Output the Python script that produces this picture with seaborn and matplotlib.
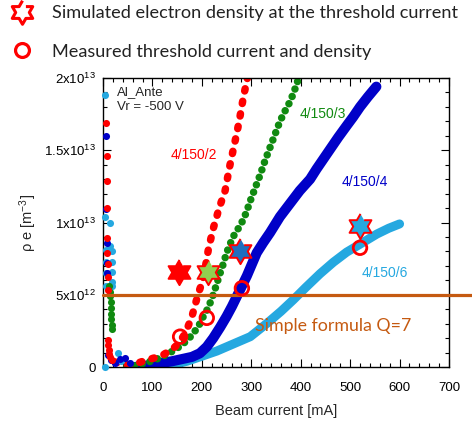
import numpy as np
import pandas as pd
import matplotlib
matplotlib.use("Agg")
import matplotlib.pyplot as plt
import seaborn as sns
from matplotlib.lines import Line2D
from matplotlib.ticker import MultipleLocator, FixedLocator, FixedFormatter

# ---------------- data (x: beam current [mA], y: density in 1e12 m^-3) ----------------
red_x = [24, 33, 41, 51, 61, 71, 81, 91, 101, 111, 122, 132, 141, 149, 156, 162, 168, 172, 176, 180,
         184, 188, 193, 200, 206, 213, 219, 224, 230, 235, 241, 247, 252, 257, 262, 267, 272, 277, 281, 286, 291, 294]
red_y = [0.35, 0.25, 0.2, 0.15, 0.2, 0.28, 0.4, 0.5, 0.6, 0.7, 0.85, 1.06, 1.25, 1.5, 1.8, 2.1, 2.45, 2.8, 3.15, 3.5,
         4.0, 4.5, 5.1, 5.8, 6.7, 8.1, 9.0, 9.7, 10.4, 11.0, 11.6, 12.2, 13.1, 14.0, 14.8, 15.6, 16.4, 17.3, 18.1, 19.0, 19.8, 20.3]
red_early_x = [7, 8, 8, 8, 9, 9, 10, 10, 11, 11, 11, 12, 13, 14, 18]
red_early_y = [16.9, 14.6, 12.9, 11.0, 8.9, 7.9, 7.1, 6.2, 5.3, 1.9, 1.5, 1.2, 0.9, 0.7, 0.5]

green_x = [48, 60, 72, 85, 102, 119, 133, 146, 160, 172, 183, 193, 203, 213, 223, 230, 237, 244, 250, 257,
           264, 274, 284, 291, 298, 308, 318, 328, 338, 348, 358, 368, 379, 387, 395, 398]
green_y = [0.0, 0.05, 0.15, 0.28, 0.45, 0.7, 0.95, 1.2, 1.55, 1.9, 2.35, 2.8, 3.5, 4.1, 5.0, 5.75, 6.5, 7.2, 7.9, 8.5,
           9.05, 9.6, 10.2, 10.8, 11.5, 12.4, 13.3, 14.3, 15.2, 16.1, 17.0, 17.7, 18.4, 19.1, 19.9, 20.2]
green_early_x = [13, 14, 15, 16, 16, 17, 17, 18, 18]
green_early_y = [5.6, 5.2, 4.9, 4.5, 4.1, 3.7, 3.3, 2.9, 2.6]

blue_x = [65, 90, 119, 140, 160, 180, 196, 210, 223, 237, 250, 261, 271, 281, 291, 301, 311, 324, 338, 358,
          378, 398, 419, 432, 446, 460, 476, 493, 506, 520, 536, 553]
blue_y = [0.0, 0.1, 0.28, 0.4, 0.55, 0.7, 0.95, 1.4, 2.0, 2.75, 3.5, 4.2, 4.9, 5.6, 6.3, 7.1, 7.9, 8.6, 9.3, 10.4,
          11.3, 12.2, 13.0, 13.7, 14.4, 15.1, 15.9, 16.7, 17.3, 18.0, 18.7, 19.4]
blue_early_x = [7, 7, 8, 8, 9, 11, 17, 24, 35, 45, 55]
blue_early_y = [16.0, 10.9, 8.6, 7.2, 6.5, 0.8, 0.5, 0.3, 0.55, 0.6, 0.3]

cyan_x = [75, 110, 140, 170, 196, 230, 264, 298, 331, 360, 385, 410, 439, 466, 493, 520, 554, 578, 600]
cyan_y = [0.0, 0.05, 0.15, 0.4, 0.7, 1.1, 1.6, 2.1, 3.0, 3.85, 4.65, 5.5, 6.45, 7.25, 7.95, 8.5, 9.2, 9.6, 9.9]
cyan_early_x = [4, 4, 14, 14, 7, 7, 7, 7, 18, 18, 18, 18, 18, 4, 30, 36]
cyan_early_y = [18.8, 10.4, 10.0, 8.35, 8.1, 7.3, 6.5, 5.6, 8.0, 7.3, 6.6, 5.9, 5.6, 0.0, 0.97, 0.4]

star_x = [153, 213, 277, 520]
star_y = [6.6, 6.6, 8.0, 9.75]
circle_x = [156, 210, 281, 520]
circle_y = [2.1, 3.4, 5.45, 8.25]

simple_formula_y = 5.0

series_labels = ["4/150/2", "4/150/3", "4/150/4", "4/150/6"]
x_ticks = [0, 100, 200, 300, 400, 500, 600, 700]
y_ticks = [0, 5, 10, 15, 20]
y_tick_labels = ["0", r"$\mathregular{5x10^{12}}$", r"$\mathregular{1x10^{13}}$",
                 r"$\mathregular{1.5x10^{13}}$", r"$\mathregular{2x10^{13}}$"]

# ---------------- style ----------------
sns.set_style("white")
plt.rcParams["font.family"] = ["Liberation Sans", "DejaVu Sans"]
plt.rcParams["mathtext.fontset"] = "custom"
plt.rcParams["mathtext.rm"] = "Liberation Sans"
plt.rcParams["mathtext.it"] = "Liberation Sans:italic"
plt.rcParams["mathtext.bf"] = "Liberation Sans:bold"

RED = "#ff0000"
GREEN = "#108a10"
BLUE = "#0000c8"
CYAN = "#25a8e0"
ORANGE = "#c55a11"

W, H = 472, 426
fig = plt.figure(figsize=(W / 100, H / 100), dpi=100)
ax = fig.add_axes([103 / W, (H - 367) / H, 346 / W, 289 / H])


def band(x, y, color, lw, ls="-"):
    sns.lineplot(x=x, y=y, ax=ax, color=color, lw=lw, sort=False, estimator=None)
    ln = ax.lines[-1]
    ln.set_linestyle(ls)
    ln.set_dash_capstyle("round")
    ln.set_solid_capstyle("round")
    ln.set_solid_joinstyle("round")


def dots(x, y, color):
    sns.scatterplot(x=x, y=y, ax=ax, color=color, s=26, linewidth=0, clip_on=False, zorder=3)


# cyan
band(cyan_x, cyan_y, CYAN, 6.5)
dots(cyan_early_x, cyan_early_y, CYAN)
# blue
band(blue_x, blue_y, BLUE, 7.3)
dots(blue_early_x, blue_early_y, BLUE)
# green
band(green_x, green_y, GREEN, 5.4, (0, (0.01, 1.05)))
dots(green_early_x, green_early_y, GREEN)
# red
band(red_x, red_y, RED, 5.4, (0, (0.3, 1.4)))
dots(red_early_x, red_early_y, RED)

# simple formula line
ax.axhline(simple_formula_y, xmin=0, xmax=(W - 103) / 346, color=ORANGE, lw=2.3,
           clip_on=False, zorder=4)

# stars (6-pointed)
ang = np.pi / 2 + np.arange(12) * np.pi / 6
rad = np.where(np.arange(12) % 2 == 0, 1.0, 0.577)
star_verts = np.column_stack([rad * np.cos(ang), rad * np.sin(ang)])
star_fill = [RED, "#92d050", "#1f6fc0", CYAN]
for sx, sy, fc in zip(star_x, star_y, star_fill):
    sns.scatterplot(x=[sx], y=[sy], ax=ax, marker=star_verts, s=330, color=fc,
                    edgecolor=RED, linewidth=1.4, zorder=6, clip_on=False)

# measured circles
sns.scatterplot(x=circle_x, y=circle_y, ax=ax, marker="o", s=95, facecolor="none",
                edgecolor=RED, linewidth=2.0, zorder=7, clip_on=False)

# axes setup
ax.set_xlim(0, 700)
ax.set_ylim(0, 20)
ax.xaxis.set_major_locator(FixedLocator(x_ticks))
ax.xaxis.set_minor_locator(MultipleLocator(20))
ax.yaxis.set_major_locator(FixedLocator(y_ticks))
ax.yaxis.set_major_formatter(FixedFormatter(y_tick_labels))
ax.yaxis.set_minor_locator(MultipleLocator(1))
ax.tick_params(which="both", direction="in", top=True, right=True, left=True, bottom=True,
               colors="black", labelsize=9.5, width=0.8)
ax.tick_params(which="major", length=6)
ax.tick_params(axis="x", which="major", pad=11)
ax.tick_params(axis="y", which="major", pad=5)
ax.tick_params(which="minor", length=3)
for sp in ax.spines.values():
    sp.set_color("black")
    sp.set_linewidth(1.0)
ax.set_xlabel("Beam current [mA]", fontsize=10.5, labelpad=7)
ax.set_ylabel(r"ρ e [m$^{\mathregular{-3}}$]", fontsize=10.5, labelpad=4)

# in-plot texts
ax.text(28, 18.5, "Al_Ante\nVr = -500 V", fontsize=9.5, va="center", ha="left", linespacing=1.25)
ax.text(183, 14.7, series_labels[0], color=RED, fontsize=10, ha="center", va="center")
ax.text(445, 17.5, series_labels[1], color=GREEN, fontsize=10, ha="center", va="center")
ax.text(530, 12.8, series_labels[2], color=BLUE, fontsize=10, ha="center", va="center")
ax.text(570, 6.5, series_labels[3], color=CYAN, fontsize=10, ha="center", va="center")
ax.text(308, 2.85, "Simple formula Q=7", color=ORANGE, fontsize=12.8, family=["Lato", "DejaVu Sans"],
        ha="left", va="center")

# header legend
hdr_font = 13.1
handles = [
    Line2D([], [], marker=star_verts, markersize=17, markerfacecolor="white", markeredgecolor=RED,
           markeredgewidth=2.2, linestyle="none"),
    Line2D([], [], marker="o", markersize=10, markerfacecolor="none", markeredgecolor=RED,
           markeredgewidth=2.3, linestyle="none"),
]
fig.legend(handles=handles,
           labels=["Simulated electron density at the threshold current",
                   "Measured threshold current and density"],
           loc="upper left", bbox_to_anchor=(7 / W, 1 - 5 / H), frameon=False,
           prop={"family": ["Lato", "DejaVu Sans"], "size": hdr_font},
           handlelength=1.6, handletextpad=0.9, labelspacing=1.25, borderpad=0.0,
           borderaxespad=0.0, labelcolor="#222222")

fig.savefig("out.png", dpi=100)
